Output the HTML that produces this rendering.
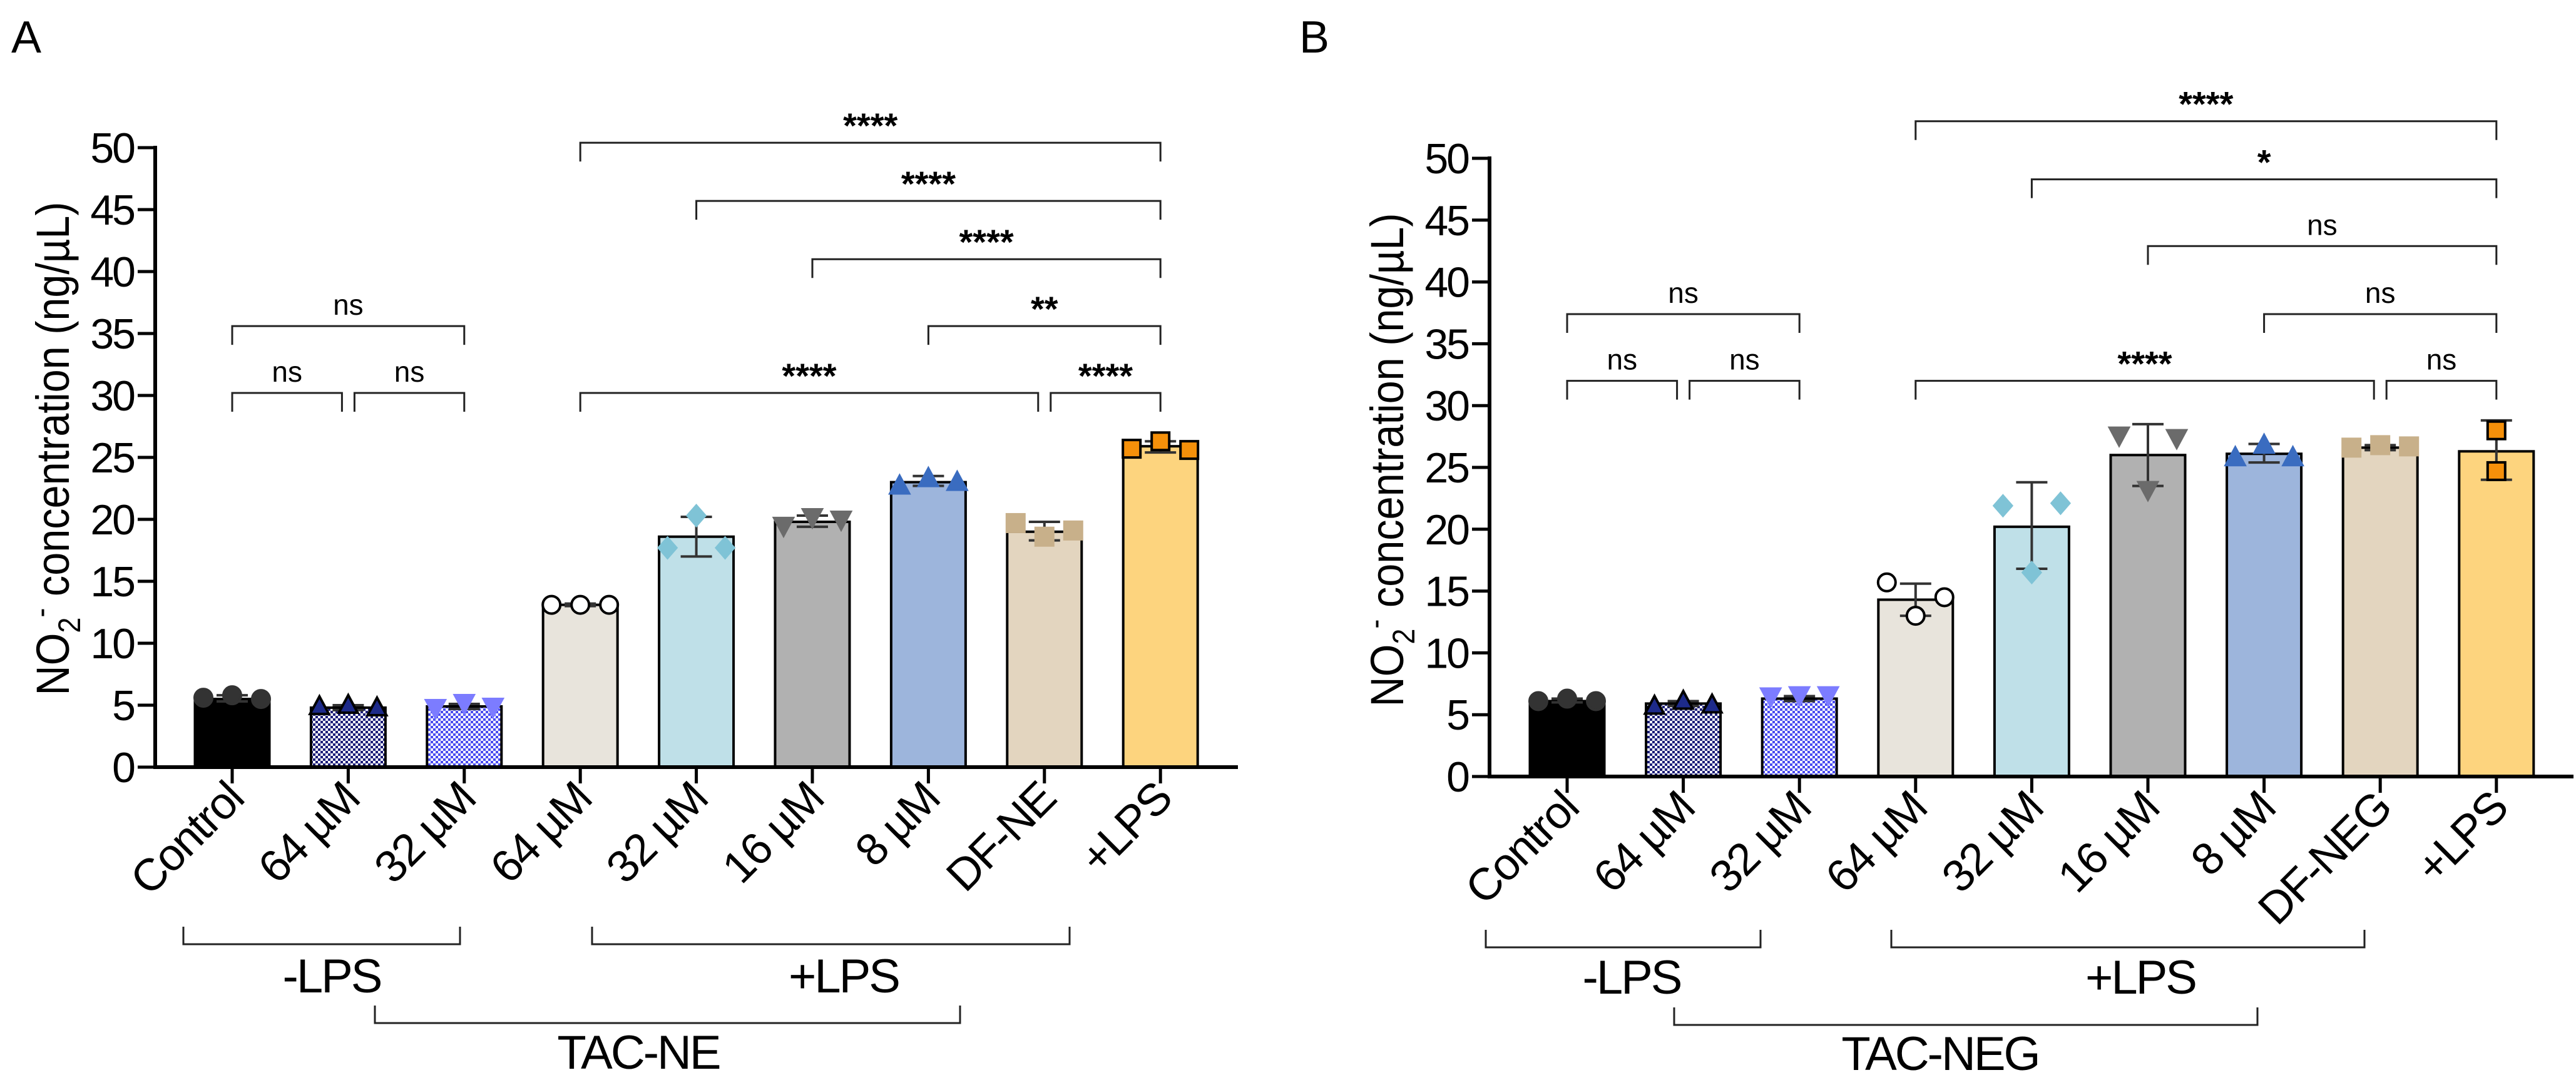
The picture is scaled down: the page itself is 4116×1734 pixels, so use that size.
<!DOCTYPE html>
<html><head><meta charset="utf-8"><style>
html,body{margin:0;padding:0;background:#fff;}
svg{display:block;font-family:"Liberation Sans",Arial,sans-serif;}
</style></head><body>
<svg id="fig" width="4116" height="1734" viewBox="0 0 4116 1734" xmlns="http://www.w3.org/2000/svg">
<defs>
<pattern id="chkNavy" width="8" height="8" patternUnits="userSpaceOnUse"><rect width="8" height="8" fill="#fff"/><rect width="4" height="4" fill="#1d1f7a"/><rect x="4" y="4" width="4" height="4" fill="#1d1f7a"/></pattern>
<pattern id="chkBlue" width="8" height="8" patternUnits="userSpaceOnUse"><rect width="8" height="8" fill="#fff"/><rect width="4" height="4" fill="#4a4cf0"/><rect x="4" y="4" width="4" height="4" fill="#4a4cf0"/></pattern>
</defs>
</svg>
<script>
const categoriesA=["Control","64  µM","32  µM","64  µM","32  µM","16  µM","8 µM","DF-NE","+LPS"];
const categoriesB=["Control","64  µM","32  µM","64 µM","32  µM","16  µM","8  µM","DF-NEG","+LPS"];
const meansA=[5.5,4.8,4.9,13.1,18.6,19.8,23.0,19.0,25.9];
const errLoA=[5.3,4.6,4.7,13.0,17.0,19.4,22.7,18.3,25.4];
const errHiA=[5.8,5.0,5.1,13.2,20.2,20.3,23.5,19.8,26.3];
const pointsA=[[5.6,5.8,5.5],[4.9,5.0,4.8],[4.8,5.2,4.9],[13.1,13.1,13.1],[17.7,20.3,17.7],[19.5,20.2,20.0],[22.7,23.3,23.0],[19.7,18.6,19.1],[25.7,26.3,25.6]];
const meansB=[6.1,5.9,6.3,14.3,20.2,26.0,26.1,26.6,26.3];
const errLoB=[6.0,5.7,6.1,13.0,16.8,23.5,25.4,26.4,24.0];
const errHiB=[6.3,6.1,6.5,15.6,23.8,28.5,26.9,26.8,28.8];
const pointsB=[[6.1,6.3,6.1],[5.7,6.1,5.8],[6.5,6.6,6.6],[15.7,13.0,14.5],[21.9,16.5,22.1],[27.6,23.2,27.4],[25.8,26.8,25.8],[26.6,26.8,26.7],[28.0,24.7]];
const yTicks=[0,5,10,15,20,25,30,35,40,45,50];
const sigA=[[3,8,"****"],[4,8,"****"],[5,8,"****"],[6,8,"**"],[3,7,"****"],[7,8,"****"],[0,2,"ns"],[0,1,"ns"],[1,2,"ns"]];
const sigLevelsA=[50.4,45.7,41.0,35.6,30.2,30.2,35.6,30.2,30.2];
const sigB=[[3,8,"****"],[4,8,"*"],[5,8,"ns"],[6,8,"ns"],[3,7,"****"],[7,8,"ns"],[0,2,"ns"],[0,1,"ns"],[1,2,"ns"]];
const sigLevelsB=[53.0,48.3,42.9,37.4,32.0,32.0,37.4,32.0,32.0];

const NS="http://www.w3.org/2000/svg";
const svg=document.getElementById('fig');
function mk(tag,attrs,parent,text){const e=document.createElementNS(NS,tag);for(const k in attrs)e.setAttribute(k,attrs[k]);if(text!==undefined)e.textContent=text;(parent||svg).appendChild(e);return e;}
const fills=["#000","url(#chkNavy)","url(#chkBlue)","#e8e4dc","#bfe0e8","#b1b1b1","#9db5dc","#e3d5bf","#fdd47e"];
const mfill=["#333","#1d2a8a","#7c7cff","#fff","#7fc3d6","#6b6b6b","#3a6cc0","#c8b08a","#f5900a"];
const mstroke=["#333","#000","#7c7cff","#000","#7fc3d6","#6b6b6b","#3a6cc0","#c8b08a","#000"];
const mshape=["circle","tri","tridown","circle","diamond","tridown","tri","square","square"];

function panel(o){
  const g=mk('g',{});
  
  
  const y=v=>o.y0-(v/50)*(o.y0-o.y50);
  const x=i=>o.x0+o.step*i;
  const bw=119;
  const lt=mk('text',{x:o.letterX,y:84,'font-size':72},g,o.letter);
  
  const ya=mk('line',{x1:o.ax,y1:o.y50-3,x2:o.ax,y2:o.y0+3,stroke:'#000','stroke-width':6},g);
  
  yTicks.forEach(t=>{
    const tk=mk('line',{x1:o.ax-28,y1:y(t),x2:o.ax,y2:y(t),stroke:'#000','stroke-width':5},g);
    
    const tl=mk('text',{x:o.ax-34,y:y(t)+24,'font-size':68,'text-anchor':'end','letter-spacing':-3},g,String(t));
    
  });
  const tt=mk('text',{transform:`translate(${o.titleX},${o.titleY}) rotate(-90)`,'font-size':74,'text-anchor':'middle',textLength:789,lengthAdjust:'spacingAndGlyphs'},g);
  
  mk('tspan',{},tt,'NO');mk('tspan',{'font-size':50,dy:18},tt,'2');mk('tspan',{'font-size':50,dy:-46},tt,'-');mk('tspan',{dy:28},tt,' concentration (ng/µL)');
  o.means.forEach((m,i)=>{
    const b=mk('rect',{x:x(i)-bw/2,y:y(m),width:bw,height:y(0)-y(m),fill:fills[i],stroke:'#000','stroke-width':4},g);
    
    const e=mk('path',{d:`M${x(i)},${y(o.lo[i])}V${y(o.hi[i])}M${x(i)-25},${y(o.lo[i])}h50M${x(i)-25},${y(o.hi[i])}h50`,stroke:'#333','stroke-width':4,fill:'none'},g);
    
    const pts=o.pts[i];
    pts.forEach((p,j)=>{
      const off=pts.length===3?(j-1)*46:0;
      const px=x(i)+off,py=y(p),r=14;let el;
      const at={fill:mfill[i],stroke:mstroke[i],'stroke-width':4};
      if(mshape[i]==='circle')el=mk('circle',Object.assign({cx:px,cy:py,r:r},at),g);
      else if(mshape[i]==='square')el=mk('rect',Object.assign({x:px-r,y:py-r,width:2*r,height:2*r},at),g);
      else if(mshape[i]==='tri')el=mk('path',Object.assign({d:`M${px},${py-r-2}L${px+r+1},${py+r-2}L${px-r-1},${py+r-2}Z`},at),g);
      else if(mshape[i]==='tridown')el=mk('path',Object.assign({d:`M${px},${py+r+2}L${px+r+1},${py-r+2}L${px-r-1},${py-r+2}Z`},at),g);
      else el=mk('path',Object.assign({d:`M${px},${py-r-2}L${px+r},${py}L${px},${py+r+2}L${px-r},${py}Z`},at),g);
      
    });
    const xt=mk('line',{x1:x(i),y1:y(0),x2:x(i),y2:y(0)+26,stroke:'#000','stroke-width':5},g);
    
    const xl=mk('text',{transform:`translate(${x(i)+22},${y(0)+54}) rotate(-45)`,'font-size':72,'text-anchor':'end','letter-spacing':-2},g,o.cats[i]);
    
  });
  const xa=mk('line',{x1:o.ax-3,y1:o.y0,x2:o.xEnd,y2:o.y0,stroke:'#000','stroke-width':6},g);
  
  o.sig.forEach((s,k)=>{
    const yy=y(o.lv[k]);
    let x1=x(s[0]),x2=x(s[1]);
    if(k===4||k===7)x2-=10; if(k===5||k===8)x1+=10;
    const br=mk('path',{d:`M${x1},${yy+30}V${yy}H${x2}V${yy+30}`,stroke:'#222','stroke-width':3,fill:'none'},g);
    
    const isNs=s[2]==='ns';
    const st=mk('text',{x:(x1+x2)/2,y:isNs?yy-18:yy-8,'font-size':isNs?46:56,'font-weight':isNs?'normal':'bold','text-anchor':'middle'},g,s[2]);
    
  });
  o.groups.forEach(gr=>{
    const p=mk('path',{d:`M${gr[0]},${gr[2]-28}V${gr[2]}H${gr[1]}V${gr[2]-28}`,stroke:'#222','stroke-width':3,fill:'none'},g);
    
    const t=mk('text',{x:gr[4],y:gr[5],'font-size':76,'text-anchor':'middle','letter-spacing':-3},g,gr[3]);
    
  });
}
panel({name:'panel-a',letter:'A',letterX:18,ax:248,y0:1226,y50:236,x0:371,step:185.4,xEnd:1978,titleX:110,titleY:717,cats:categoriesA,means:meansA,lo:errLoA,hi:errHiA,pts:pointsA,sig:sigA,lv:sigLevelsA,
 groups:[[293,735,1509,'-LPS',530,1586],[946,1709,1509,'+LPS',1348,1586],[599,1534,1635,'TAC-NE',1020,1708]]});
panel({name:'panel-b',letter:'B',letterX:2076,ax:2380,y0:1241,y50:253,x0:2504,step:185.6,xEnd:4112,titleX:2242,titleY:735,cats:categoriesB,means:meansB,lo:errLoB,hi:errHiB,pts:pointsB,sig:sigB,lv:sigLevelsB,
 groups:[[2374,2813,1514,'-LPS',2607,1588],[3022,3778,1514,'+LPS',3420,1588],[2675,3607,1638,'TAC-NEG',3100,1710]]});
</script>
</body></html>
